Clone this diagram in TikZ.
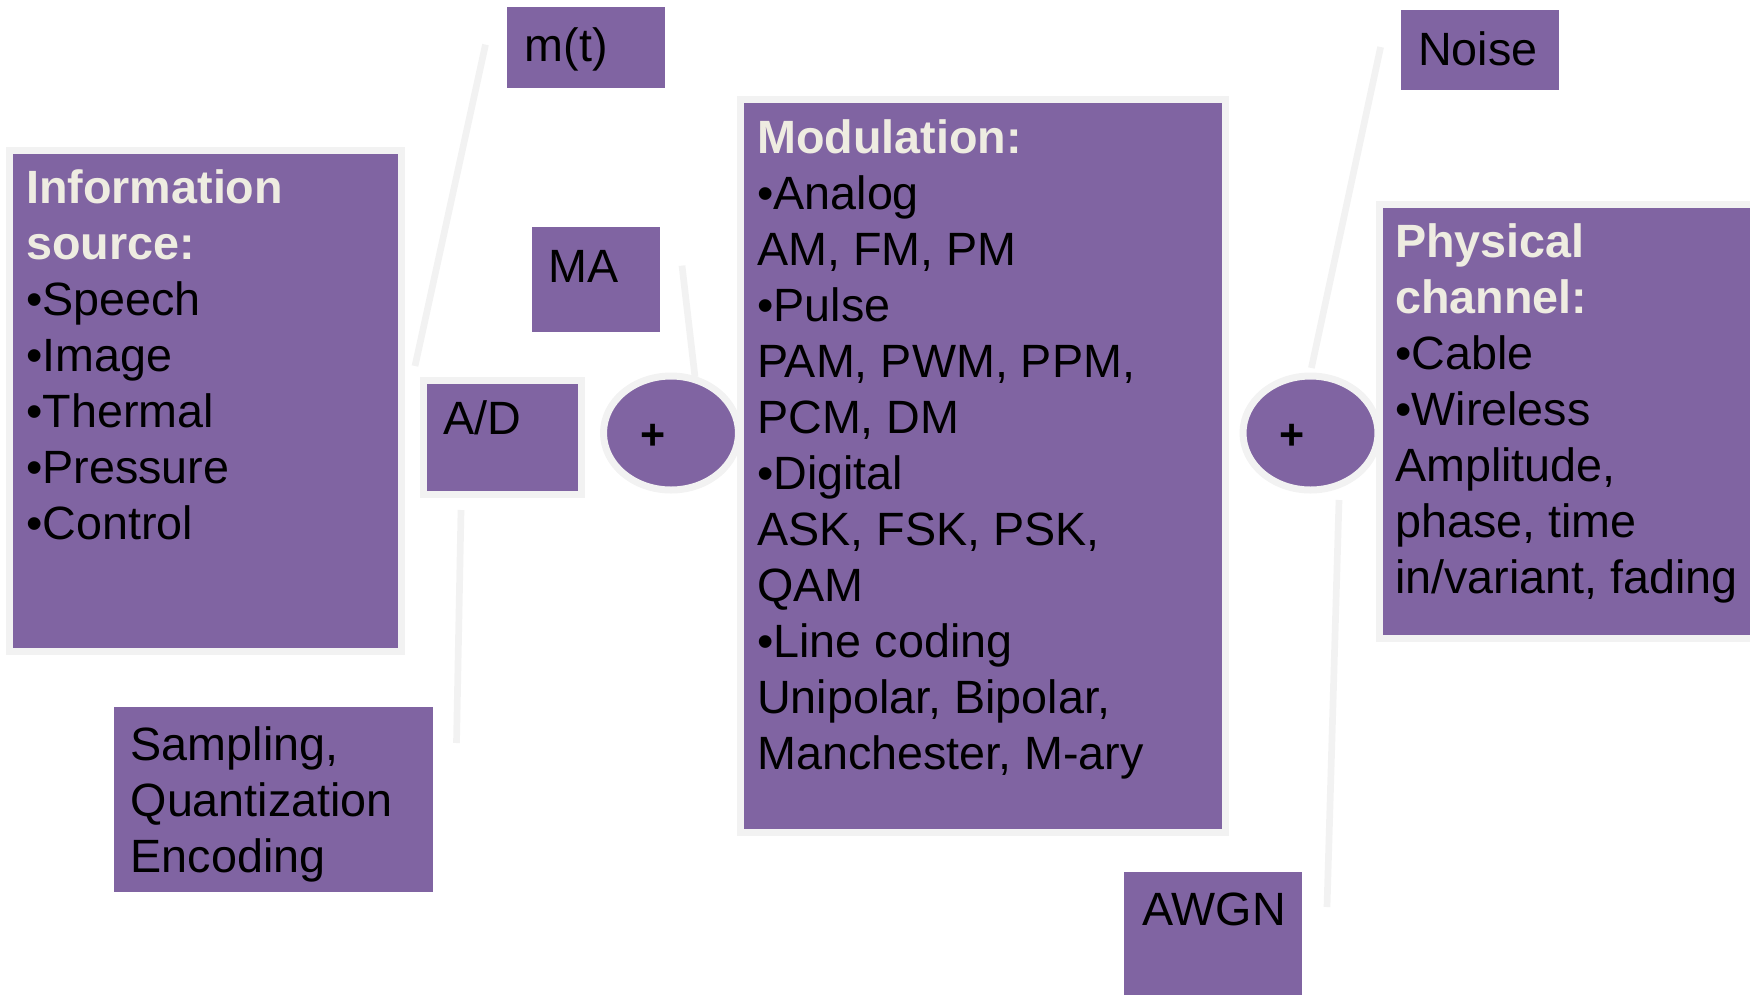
\documentclass[tikz,border=0pt]{standalone}
\usepackage{fontspec}
\setmainfont{Liberation Sans}
\usetikzlibrary{positioning,shapes.geometric}
\definecolor{boxpurple}{HTML}{8064A2}
\definecolor{rimgray}{HTML}{F2F2F2}
\definecolor{titlecream}{HTML}{EEECE1}
\newcommand{\ttl}[1]{{\bfseries\color{titlecream}#1}}

\begin{document}
\begin{tikzpicture}[x=1pt, y=-1pt, font=\fontsize{46.7}{56}\selectfont,
  box/.style={fill=boxpurple, inner sep=0pt, outer sep=0pt, anchor=north west},
  rimbox/.style={box, draw=rimgray, line width=7pt},
  sumnode/.style={ellipse, fill=boxpurple, draw=rimgray, line width=7pt, inner sep=0pt, outer sep=0pt, minimum width=135pt, minimum height=114pt},
  txt/.style={anchor=north west, inner sep=0pt, align=left},
  plus/.style={inner sep=0pt, font=\fontsize{43}{50}\selectfont\bfseries},
  wire/.style={draw=rimgray, line width=6.7pt}]
\useasboundingbox (0,0) rectangle (1750,994);
% free ends of the grey connectors
\coordinate (mtA) at (485.5,44.6);
\coordinate (adA) at (415,366);
\coordinate (maA) at (682,265.6);
\coordinate (sumA) at (695,377);
\coordinate (adB) at (461,510);
\coordinate (smpA) at (456.5,743);
\coordinate (nsA) at (1380.6,47);
\coordinate (sumB) at (1311.4,368);
\coordinate (sumC) at (1339,500);
\coordinate (awA) at (1327,907);
\draw[wire] (mtA) -- (adA);
\draw[wire] (maA) -- (sumA);
\draw[wire] (adB) -- (smpA);
\draw[wire] (nsA) -- (sumB);
\draw[wire] (sumC) -- (awA);
% boxes
\node[rimbox, minimum width=391.5pt, minimum height=501pt] (src) at (9.5,150) {};
\node[box, minimum width=158pt, minimum height=81pt] (mt) at (507,6.7) {};
\node[box, minimum width=128pt, minimum height=105pt] (ma) at (532,226.6) {};
\node[rimbox, minimum width=158.5pt, minimum height=114pt] (ad) at (423,380.5) {};
\node[box, minimum width=319pt, minimum height=185.5pt] (smp) at (114,706.5) {};
\node[sumnode] (sum1) at (671,433) {};
\node[rimbox, minimum width=485.5pt, minimum height=732.5pt] (mod) at (740,99.5) {};
\node[box, minimum width=158pt, minimum height=80pt] (ns) at (1401,10) {};
\node[sumnode] (sum2) at (1310.5,433) {};
\node[rimbox, minimum width=420pt, minimum height=434pt] (phys) at (1379.5,204) {};
\node[box, minimum width=178pt, minimum height=130pt] (aw) at (1124,872) {};
% texts
\node[txt] (srctxt) at (26,163.8) {\strut\ttl{Information}\\\ttl{source:}\\•Speech\\•Image\\•Thermal\\•Pressure\\•Control};
\node[txt] (mttxt) at (524.6,21.8) {\strut m(t)};
\node[txt] (matxt) at (548.6,242.8) {\strut MA};
\node[txt] (adtxt) at (443,394.8) {\strut A/D};
\node[txt] (smptxt) at (130.5,720.8) {\strut Sampling,\\Quantization\\Encoding};
\node[plus] (plus1) at ([xshift=-18pt, yshift=-4pt]sum1.center) {+};
\node[txt] (modtxt) at (757,113.8) {\strut\ttl{Modulation:}\\•Analog\\AM, FM, PM\\•Pulse\\PAM, PWM, PPM,\\PCM, DM\\•Digital\\ASK, FSK, PSK,\\QAM\\•Line coding\\Unipolar, Bipolar,\\Manchester, M-ary};
\node[txt] (nstxt) at (1418,26.3) {\strut Noise};
\node[plus] (plus2) at ([xshift=-18pt, yshift=-4pt]sum2.center) {+};
\node[txt] (physstxt) at (1395,217.8) {\strut\ttl{Physical}\\\ttl{channel:}\\•Cable\\•Wireless\\Amplitude,\\phase, time\\in/variant, fading};
\node[txt] (awtxt) at (1142,885.8) {\strut AWGN};
\end{tikzpicture}
\end{document}
